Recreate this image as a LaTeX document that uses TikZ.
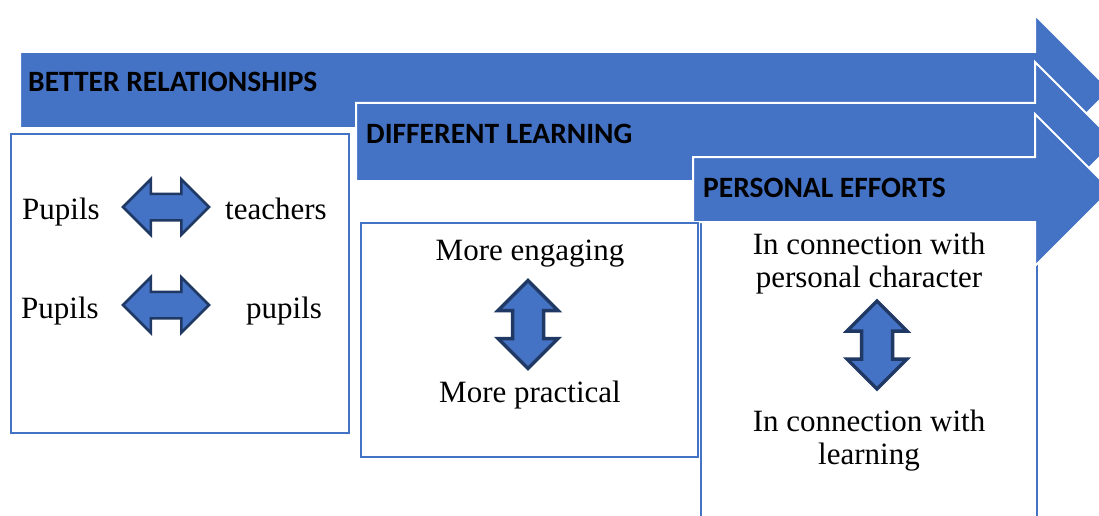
\documentclass[tikz,border=0pt]{standalone}
\usepackage{fontspec}
\setmainfont{Liberation Serif}
\newfontfamily\hdfont{Carlito}
\usepackage{tikz}
\usetikzlibrary{shapes.arrows}

\definecolor{myblue}{HTML}{4472C4}
\definecolor{mydark}{HTML}{203864}

\tikzset{
    bigarrow/.style={fill=myblue, draw=white, line width=2pt},
    box/.style={draw=myblue, line width=2pt, fill=white},
    twoway/.style={double arrow, fill=myblue, draw=mydark, line width=2.5pt,
        inner xsep=0pt, inner ysep=12pt, double arrow head extend=14.5pt,
        minimum height=86pt},
    twowayup/.style={twoway, rotate=90, line width=3.5pt, inner ysep=13.75pt,
        double arrow head extend=14.5pt, minimum height=88pt},
    head/.style={font=\hdfont\bfseries\fontsize{29.5}{31}\selectfont,
        anchor=base west, inner sep=0pt},
    txt/.style={font=\fontsize{31}{33}\selectfont, inner sep=0pt, align=center}
}

\begin{document}
\begin{tikzpicture}[x=1pt, y=-1pt]
    \clip (0,0) rectangle (1099,516);

    % big arrows
    \draw[bigarrow] (20,52) -- (1035,52) -- (1035,15) -- (1110,90) -- (1035,165) -- (1035,128) -- (20,128) -- cycle;
    \draw[bigarrow] (356,103) -- (1035,103) -- (1035,62) -- (1115,142) -- (1035,222) -- (1035,181) -- (356,181) -- cycle;
    \draw[box] (701,210) rectangle (1037,530);
    \draw[bigarrow] (693,157) -- (1035,157) -- (1035,114) -- (1111,190) -- (1035,266) -- (1035,222) -- (693,222) -- cycle;

    \node[head] (relations) at (28,92) {BETTER RELATIONSHIPS};
    \node[head] (learning) at (366,143) {DIFFERENT LEARNING};
    \node[head] (efforts) at (703,197) {PERSONAL EFFORTS};

    % boxes
    \draw[box] (11,134) rectangle (349,433);
    \draw[box] (361,223) rectangle (698,457);

    \node[txt, anchor=base west] (pupils1) at (22,219) {Pupils};
    \node[txt, anchor=base west] (teachers) at (225,219) {teachers};
    \node[twoway] (pt) at (166,207) {};
    \node[txt, anchor=base west] (pupils2) at (21,318) {Pupils};
    \node[txt, anchor=base west] (pupils3) at (246,318) {pupils};
    \node[twoway] (pp) at (166,305) {};

    \node[txt, anchor=base] (engaging) at (530,260) {More engaging};
    \node[twowayup] (ep) at (528,324.5) {};
    \node[txt, anchor=base] (practical) at (530,402) {More practical};

    \node[txt] (character) at (869,264) {In connection with\\personal character};
    \node[twowayup] (cl) at (877,345) {};
    \node[txt] (withlearning) at (869,441) {In connection with\\learning};
\end{tikzpicture}
\end{document}
